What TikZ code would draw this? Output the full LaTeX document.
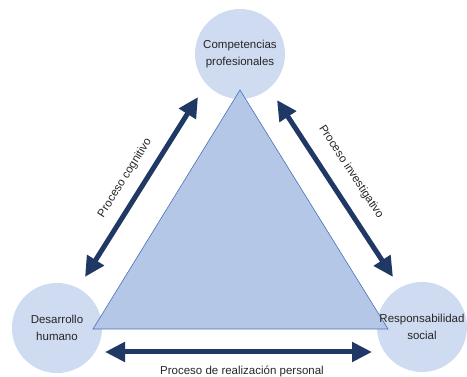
\documentclass[tikz,border=0pt]{standalone}
\usepackage{fontspec}
\setmainfont{Liberation Sans}
\usetikzlibrary{arrows.meta}
\definecolor{circfill}{HTML}{CFDBF0}
\definecolor{trifill}{HTML}{B4C7E7}
\definecolor{triedge}{HTML}{4A70B8}
\definecolor{navy}{HTML}{1F3864}
\definecolor{txt}{HTML}{262626}
\tikzset{
  bubble/.style={circle, fill=circfill, minimum size=90pt, inner sep=0pt},
  btext/.style={align=center, text=txt, font=\fontsize{11.5}{17}\selectfont},
  flow/.style={line width=5pt, navy, {Triangle[length=20pt,width=19pt]}-{Triangle[length=20pt,width=19pt]}},
  flabel/.style={text=txt, font=\fontsize{11.5}{13}\selectfont}
}
\begin{document}
\begin{tikzpicture}[x=1pt,y=-1pt]
\useasboundingbox (0,0) rectangle (467,377);
% circles
\node[bubble] (cp) at (240,54) {};
\node[bubble] (dh) at (57,328) {};
\node[bubble] (rs) at (422,327) {};
% triangle
\coordinate (ta) at (240,90);
\coordinate (tl) at (93,329);
\coordinate (tr) at (388,329);
\fill[trifill, draw=triedge, line width=0.6pt] (ta) -- (tl) -- (tr) -- cycle;
% texts
\node[btext] at (cp) {Competencias\\profesionales};
\node[btext] at (dh) {Desarrollo\\humano};
\node[btext] at (rs) {Responsabilidad\\social};
% arrows
\coordinate (l1) at (85,277);
\coordinate (l2) at (198,97);
\coordinate (r1) at (277,100);
\coordinate (r2) at (393,277);
\coordinate (b1) at (105,352);
\coordinate (b2) at (372,352);
\draw[flow] (l1) -- (l2);
\draw[flow] (r1) -- (r2);
\draw[flow] (b1) -- (b2);
% labels
\node[flabel, rotate=57.9] (lc) at (125,178) {Proceso cognitivo};
\node[flabel, rotate=-56.8] (li) at (351,172) {Proceso investigativo};
\node[flabel] (lr) at (242,371) {Proceso de realización personal};
\end{tikzpicture}
\end{document}
